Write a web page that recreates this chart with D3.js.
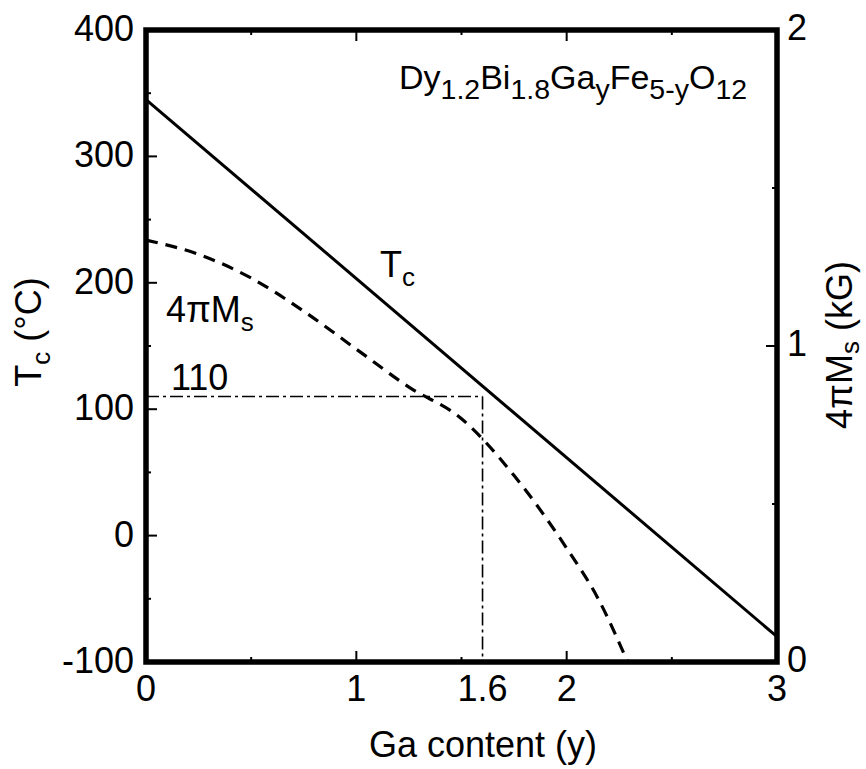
<!DOCTYPE html>
<html>
<head>
<meta charset="utf-8">
<script src="https://cdn.jsdelivr.net/npm/d3@7"></script>
<style>
  html, body { margin: 0; padding: 0; background: #fff; }
  svg { display: block; font-family: "Liberation Sans", Arial, sans-serif; }
</style>
</head>
<body>
<svg id="chart" width="866" height="769"></svg>
<script>
// Ga content (y) axis
const gaMajorTicks = [0, 1, 2, 3];
const gaMinorTicks = [0.5, 1.5, 2.5];
const gaTickLabels = [0, 1, 1.6, 2, 3];

// Curie temperature axis (left, °C)
const tcMajorTicks = [-100, 0, 100, 200, 300, 400];
const tcMinorTicks = [-50, 50, 150, 250, 350];

// Saturation magnetisation axis (right, kG)
const msMajorTicks = [0, 1, 2];
const msMinorTicks = [0.5, 1.5];

// Tc versus Ga content (straight line)
const tcGa = [0, 3];
const tcValues = [345, -80];

// 4πMs versus Ga content (dashed curve)
const msGa = [0, 0.25, 0.5, 0.75, 1.0, 1.25, 1.5, 1.75, 2.0, 2.15, 2.29];
const msValues = [1.335, 1.29, 1.215, 1.11, 0.99, 0.87, 0.77, 0.59, 0.36, 0.2, 0.0];

// Guide marking Tc = 110 °C at y = 1.6
const guideGa = 1.6;
const guideTc = 110;

const svg = d3.select("#chart");
const L = 146, R = 777, T = 30, B = 662;

const x = d3.scaleLinear().domain([0, 3]).range([L, R]);
const yL = d3.scaleLinear().domain([-100, 400]).range([B, T]);
const yR = d3.scaleLinear().domain([0, 2]).range([B, T]);

const fs = 36, subFs = 26;

// ticks (inward)
const tk = svg.append("g").attr("stroke", "#000").attr("stroke-width", 2);
function ticks(vals, len, side) {
  vals.forEach(v => {
    if (side === "bottom") tk.append("line").attr("x1", x(v)).attr("x2", x(v)).attr("y1", B).attr("y2", B - len);
    if (side === "top") tk.append("line").attr("x1", x(v)).attr("x2", x(v)).attr("y1", T).attr("y2", T + len);
    if (side === "left") tk.append("line").attr("x1", L).attr("x2", L + len).attr("y1", yL(v)).attr("y2", yL(v));
    if (side === "right") tk.append("line").attr("x1", R).attr("x2", R - len).attr("y1", yR(v)).attr("y2", yR(v));
  });
}
ticks(gaMajorTicks, 11, "bottom"); ticks(gaMinorTicks, 5, "bottom");
ticks(gaMajorTicks, 11, "top"); ticks(gaMinorTicks, 5, "top");
ticks(tcMajorTicks, 11, "left"); ticks(tcMinorTicks, 5, "left");
ticks(msMajorTicks, 11, "right"); ticks(msMinorTicks, 5, "right");

// guide lines (dash-dot)
const guide = svg.append("g").attr("fill", "none").attr("stroke", "#000")
  .attr("stroke-width", 1.6).attr("stroke-dasharray", "13,4,3,4");
guide.append("path").attr("d", d3.line()([[x(0), yL(guideTc)], [x(guideGa), yL(guideTc)]]));
guide.append("path").attr("d", d3.line()([[x(guideGa), yL(guideTc)], [x(guideGa), yL(-100)]]));

// Tc line
svg.append("path")
  .attr("d", d3.line().x(d => x(d[0])).y(d => yL(d[1]))(tcGa.map((g, i) => [g, tcValues[i]])))
  .attr("fill", "none").attr("stroke", "#000").attr("stroke-width", 3);

// 4πMs curve
svg.append("path")
  .attr("d", d3.line().curve(d3.curveMonotoneX).x(d => x(d[0])).y(d => yR(d[1]))(msGa.map((g, i) => [g, msValues[i]])))
  .attr("fill", "none").attr("stroke", "#000").attr("stroke-width", 3.2).attr("stroke-dasharray", "12,8");

// frame
svg.append("rect").attr("x", L).attr("y", T).attr("width", R - L).attr("height", B - T)
  .attr("fill", "none").attr("stroke", "#000").attr("stroke-width", 5.5);

// tick labels
const lab = svg.append("g").attr("font-size", fs).attr("fill", "#000");
tcMajorTicks.forEach(v => lab.append("text").attr("x", 134).attr("y", yL(v) + 11).attr("text-anchor", "end").text(v));
gaTickLabels.forEach(v => lab.append("text").attr("x", x(v)).attr("y", 701).attr("text-anchor", "middle").text(v));
msMajorTicks.forEach(v => lab.append("text").attr("x", 787).attr("y", yR(v) + 10).attr("text-anchor", "start").text(v));

// axis titles
lab.append("text").attr("x", 483).attr("y", 757).attr("text-anchor", "middle").text("Ga content (y)");

const lt = lab.append("text").attr("transform", "translate(41,332) rotate(-90)").attr("text-anchor", "middle");
lt.append("tspan").text("T");
lt.append("tspan").attr("font-size", subFs).attr("dy", 9).text("c");
lt.append("tspan").attr("dy", -9).text(" (°C)");

const rt = lab.append("text").attr("transform", "translate(852,345) rotate(-90)").attr("text-anchor", "middle");
rt.append("tspan").text("4πM");
rt.append("tspan").attr("font-size", subFs).attr("dy", 7).text("s");
rt.append("tspan").attr("dy", -7).text(" (kG)");

// in-plot annotations
const tcl = lab.append("text").attr("x", 380).attr("y", 277);
tcl.append("tspan").text("T");
tcl.append("tspan").attr("font-size", subFs).attr("dy", 9).text("c");

const msl = lab.append("text").attr("x", 166).attr("y", 322);
msl.append("tspan").text("4πM");
msl.append("tspan").attr("font-size", subFs).attr("dy", 9).text("s");

lab.append("text").attr("x", 171).attr("y", 390).text(guideTc);

// composition formula
const fm = lab.append("text").attr("x", 399).attr("y", 89).attr("font-size", 34);
const parts = [["Dy", false], ["1.2", true], ["Bi", false], ["1.8", true], ["Ga", false], ["y", true],
               ["Fe", false], ["5-y", true], ["O", false], ["12", true]];
let down = false;
parts.forEach(([t, sub]) => {
  const s = fm.append("tspan").text(t);
  if (sub) { s.attr("font-size", 28.5); if (!down) { s.attr("dy", 10); down = true; } }
  else if (down) { s.attr("dy", -10); down = false; }
});
</script>
</body>
</html>
